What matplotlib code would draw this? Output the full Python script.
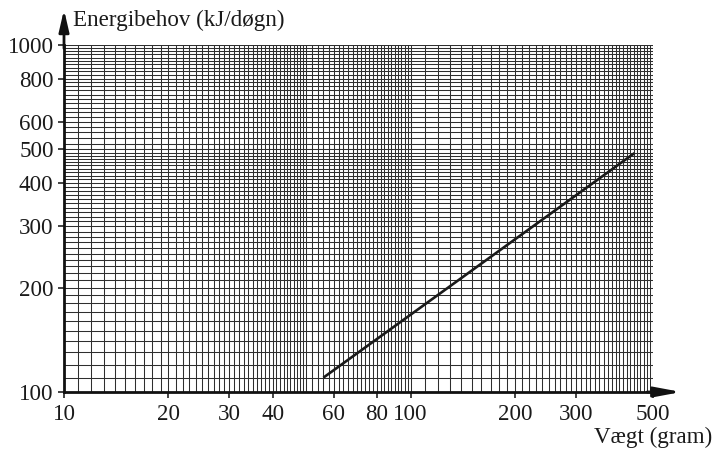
import numpy as np
import matplotlib
matplotlib.use("Agg")
import matplotlib.pyplot as plt
from matplotlib.ticker import FixedLocator, FixedFormatter, NullLocator

# --- data ---
weight = [56, 442]          # Vægt (gram)
energy = [110, 488]         # Energibehov (kJ/døgn)
xticks = [10, 20, 30, 40, 60, 80, 100, 200, 300, 500]
yticks = [100, 200, 300, 400, 500, 600, 800, 1000]
xlabel = "Vægt (gram)"
ylabel = "Energibehov (kJ/døgn)"

plt.rcParams['font.family'] = ['Liberation Serif', 'DejaVu Serif']
FS = 16.6

fig = plt.figure(figsize=(7.15, 4.51), dpi=100)
ax = fig.add_axes([64/715, 1-392/451, (653-64)/715, (392-45)/451])
ax.set_xscale('log')
ax.set_yscale('log')
ax.set_xlim(10, 500)
ax.set_ylim(100, 1000)

# log-paper grid
gx = np.concatenate([np.arange(10, 50, 1), np.arange(50, 100, 2), np.arange(100, 501, 10)])
gy = np.concatenate([np.arange(100, 500, 10), np.arange(500, 1001, 20)])
gcol = '#2e2e2e'
for v in gx:
    ax.axvline(v, color=gcol, lw=0.75, zorder=1)
for v in gy:
    ax.axhline(v, color=gcol, lw=0.75, zorder=1)

ax.plot(weight, energy, color='#1a1a1a', lw=1.9, solid_capstyle='butt', zorder=3)

for s in ['top', 'right']:
    ax.spines[s].set_visible(False)
for s in ['left', 'bottom']:
    ax.spines[s].set_linewidth(2.0)
    ax.spines[s].set_color('#111111')
    ax.spines[s].set_zorder(4)

ax.xaxis.set_major_locator(FixedLocator(xticks))
ax.xaxis.set_major_formatter(FixedFormatter([str(v) for v in xticks]))
ax.yaxis.set_major_locator(FixedLocator(yticks))
ax.yaxis.set_major_formatter(FixedFormatter([str(v) for v in yticks]))
ax.xaxis.set_minor_locator(NullLocator())
ax.yaxis.set_minor_locator(NullLocator())
ax.tick_params(axis='both', which='major', direction='out', length=4.5, width=1.2,
               color='#222222', labelsize=FS, labelcolor='#1a1a1a')
ax.tick_params(axis='x', pad=4)
ax.tick_params(axis='y', pad=3)

# axis arrows
ax.annotate('', xy=(0, 1.102), xytext=(0, 0.99), xycoords='axes fraction',
            arrowprops=dict(arrowstyle='-|>,head_length=1.3,head_width=0.3',
                            mutation_scale=10, lw=2.0, color='#111111',
                            shrinkA=0, shrinkB=0), annotation_clip=False)
ax.annotate('', xy=(1.048, 0), xytext=(0.99, 0), xycoords='axes fraction',
            arrowprops=dict(arrowstyle='-|>,head_length=1.6,head_width=0.3',
                            mutation_scale=10, lw=2.0, color='#111111',
                            shrinkA=0, shrinkB=0), annotation_clip=False)

ax.text(0.016, 1.072, ylabel, transform=ax.transAxes, ha='left', va='center',
        fontsize=FS, color='#1a1a1a')
ax.text(1.100, -0.132, xlabel, transform=ax.transAxes, ha='right', va='center',
        fontsize=FS, color='#1a1a1a')

fig.savefig('out.png', dpi=100)
